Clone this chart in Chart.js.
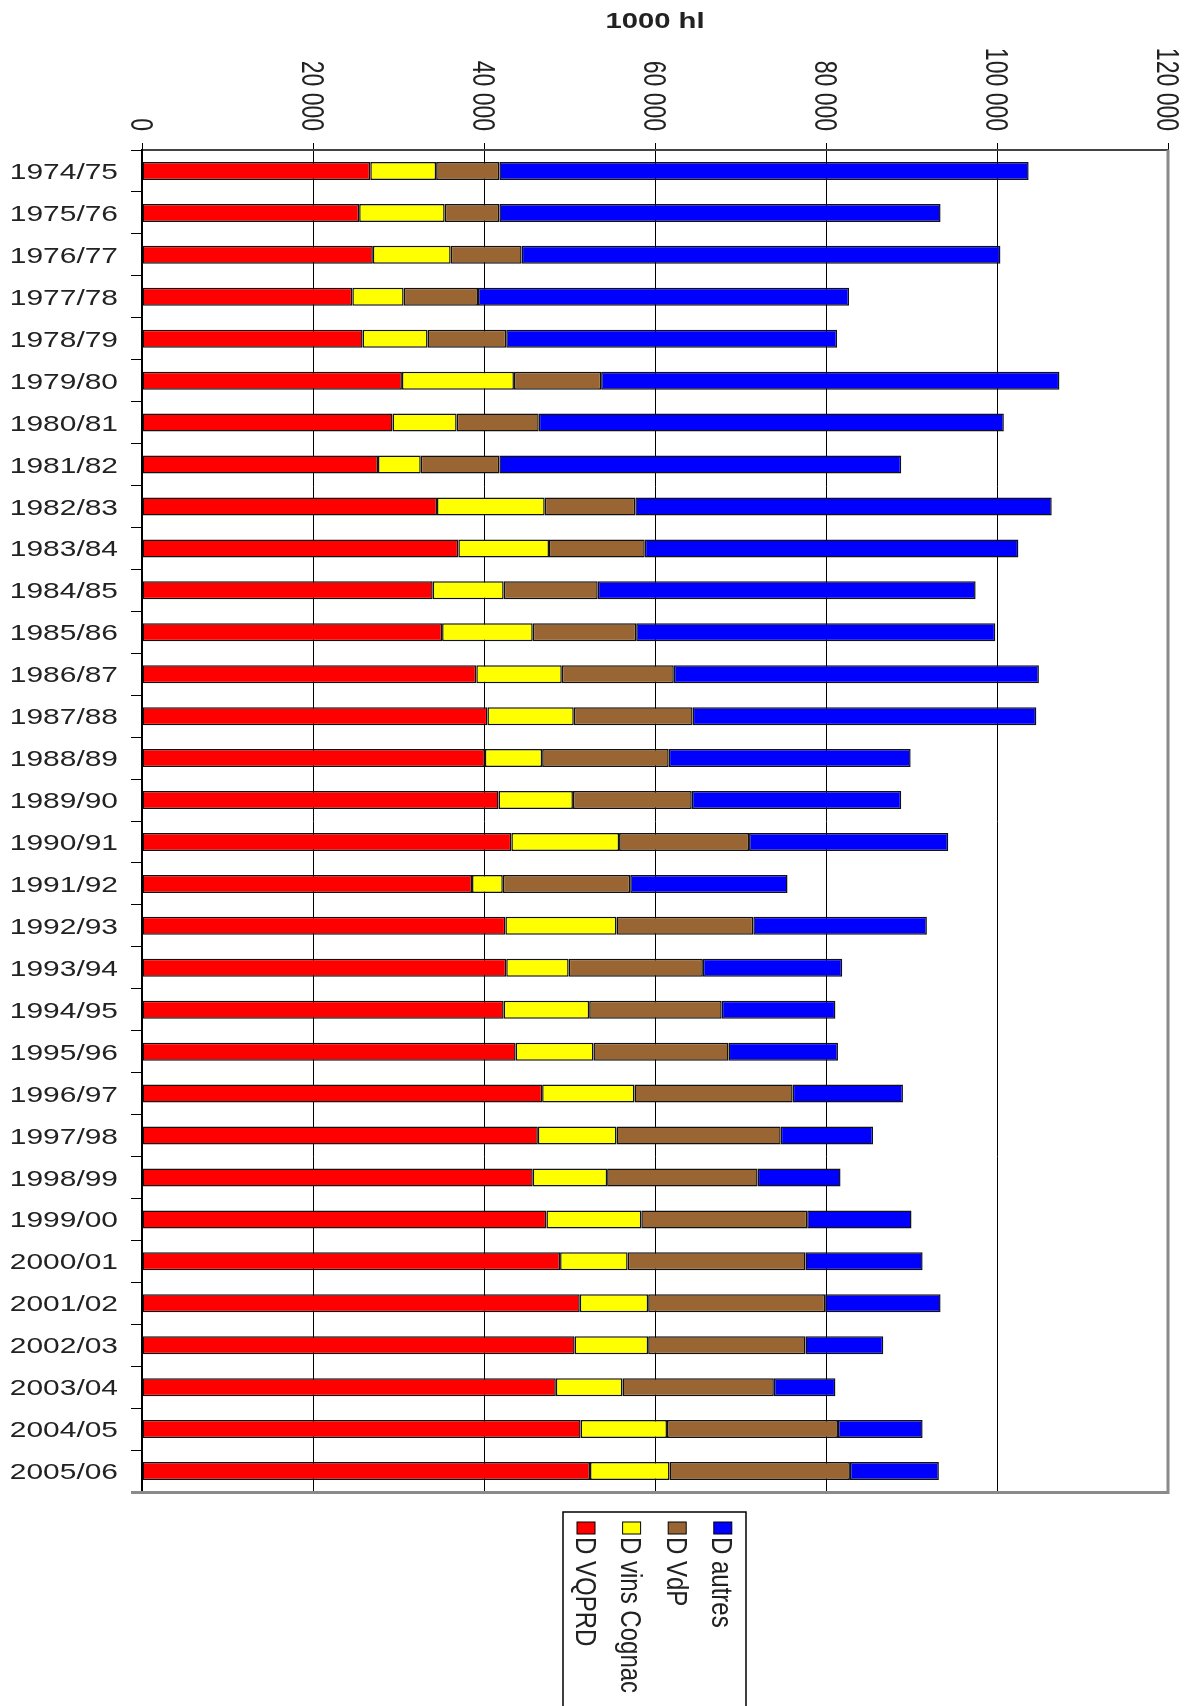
<!DOCTYPE html>
<html>
<head>
    <meta charset="UTF-8">
    <title>1000 hl</title>
    <script src="https://cdn.jsdelivr.net/npm/chart.js"></script>
    <style>
        body { margin: 0; background: #fff; }
    </style>
</head>
<body>
<canvas id="myChart" width="1192" height="1706"></canvas>

<script>
    const labels = ['1974/75', '1975/76', '1976/77', '1977/78', '1978/79', '1979/80', '1980/81', '1981/82',
        '1982/83', '1983/84', '1984/85', '1985/86', '1986/87', '1987/88', '1988/89', '1989/90',
        '1990/91', '1991/92', '1992/93', '1993/94', '1994/95', '1995/96', '1996/97', '1997/98',
        '1998/99', '1999/00', '2000/01', '2001/02', '2002/03', '2003/04', '2004/05', '2005/06'];

    // 1000 hl
    const vqprd = [26700, 25400, 27000, 24600, 25800, 30400, 29300, 27600, 34500, 37000, 34000, 35100,
        39100, 40400, 40100, 41700, 43200, 38600, 42500, 42600, 42300, 43700, 46800, 46300,
        45700, 47300, 48900, 51200, 50600, 48400, 51300, 52400];
    const cognac = [7700, 10000, 9100, 6000, 7600, 13100, 7500, 5000, 12600, 10600, 8300, 10600,
        10000, 10100, 6700, 8700, 12600, 3600, 13000, 7300, 10000, 9100, 10800, 9200,
        8700, 11100, 7900, 8000, 8600, 7800, 10100, 9300];
    const vdp = [7400, 6400, 8300, 8700, 9200, 10200, 9600, 9200, 10600, 11200, 11000, 12100,
        13100, 13900, 14800, 13900, 15200, 14900, 16000, 15700, 15500, 15800, 18500, 19200,
        17600, 19400, 20800, 20700, 18400, 17700, 20000, 21100];
    const autres = [61900, 51600, 56000, 43400, 38700, 53600, 54400, 47000, 48700, 43700, 44200, 42000,
        42700, 40200, 28300, 24500, 23300, 18400, 20300, 16300, 13300, 12800, 12900, 10800,
        9700, 12200, 13700, 13500, 9100, 7200, 9900, 10400];

    const seriesNames = ['D VQPRD', 'D vins Cognac', 'D VdP', 'D autres'];
    const seriesColors = ['#ff0000', '#ffff00', '#996633', '#0000ff'];
    const axisTitle = '1000 hl';

    const FONT = '"Liberation Sans", Arial, sans-serif';
    const STRETCH = 1.33;   // the original text is wide

    function fmt(v) {
        return String(v).replace(/\B(?=(\d{3})+(?!\d))/g, ' ');
    }

    // draws all the texts, the frame and the rotated legend
    const drawText = {
        id: 'drawText',
        afterDraw(chart) {
            const ctx = chart.ctx;
            const xs = chart.scales.x;
            const ys = chart.scales.y;
            const area = chart.chartArea;
            ctx.save();

            // frame right and bottom
            ctx.strokeStyle = '#8a8a8a';
            ctx.lineWidth = 3;
            ctx.beginPath();
            ctx.moveTo(area.left - 11, area.bottom + 0.5);
            ctx.lineTo(area.right, area.bottom + 0.5);
            ctx.lineTo(area.right, area.top);
            ctx.stroke();

            ctx.fillStyle = '#222';

            // title
            ctx.save();
            ctx.font = 'bold 22px ' + FONT;
            ctx.translate((area.left + area.right) / 2, 28);
            ctx.scale(STRETCH, 1);
            ctx.textAlign = 'center';
            ctx.fillText(axisTitle, 0, 0);
            ctx.restore();

            // value ticks, turned a quarter
            const tf = 23;
            ctx.font = tf + 'px ' + FONT;
            xs.ticks.forEach(t => {
                const px = xs.getPixelForValue(t.value);
                ctx.save();
                ctx.translate(px, area.top - 19);
                ctx.rotate(Math.PI / 2);
                ctx.scale(1, STRETCH);
                ctx.textAlign = 'right';
                ctx.fillText(fmt(t.value), 0, tf * 0.716 / 2);
                ctx.restore();
            });

            // years
            const yf = 22.5;
            ctx.font = yf + 'px ' + FONT;
            chart.data.labels.forEach((lab, i) => {
                const py = ys.getPixelForValue(i);
                ctx.save();
                ctx.translate(area.left - 24, py + yf * 0.716 / 2);
                ctx.scale(STRETCH, 1);
                ctx.textAlign = 'right';
                ctx.fillText(lab, 0, 0);
                ctx.restore();
            });

            // legend box
            const lx = 563, lw = 183, ly = 1512;
            ctx.strokeStyle = '#000';
            ctx.lineWidth = 1.5;
            ctx.strokeRect(lx, ly, lw, 260);

            const lf = 24;
            ctx.font = lf + 'px ' + FONT;
            chart.data.datasets.forEach((ds, i) => {
                const cx = 586 + i * 45.6;
                ctx.fillStyle = ds.backgroundColor;
                ctx.fillRect(cx - 9, 1522, 18, 12);
                ctx.strokeStyle = '#000';
                ctx.lineWidth = 1;
                ctx.strokeRect(cx - 9, 1522, 18, 12);
                ctx.fillStyle = '#222';
                ctx.save();
                ctx.translate(cx, 1537);
                ctx.rotate(Math.PI / 2);
                ctx.scale(1, 1.2);
                ctx.textAlign = 'left';
                ctx.fillText(ds.label, 0, lf * 0.716 / 2);
                ctx.restore();
            });

            ctx.restore();
        }
    };

    const values = [vqprd, cognac, vdp, autres];

    const data = {
        labels: labels,
        datasets: values.map((v, i) => ({
            label: seriesNames[i],
            data: v,
            backgroundColor: seriesColors[i],
            borderColor: '#111',
            borderWidth: 1.5,
            borderSkipped: false,
            barPercentage: 0.43,
            categoryPercentage: 1
        }))
    };

    const config = {
        type: 'bar',
        data: data,
        options: {
            indexAxis: 'y',
            responsive: false,
            animation: false,
            layout: {
                padding: { left: 131, top: 143, right: 24, bottom: 214 }
            },
            plugins: {
                legend: { display: false },
                title: { display: false },
                tooltip: { enabled: false }
            },
            scales: {
                x: {
                    position: 'top',
                    stacked: true,
                    min: 0,
                    max: 120000,
                    ticks: { stepSize: 20000, display: false },
                    grid: { color: '#000', lineWidth: 1, tickLength: 7, tickColor: '#000' },
                    border: { color: '#444', width: 2 }
                },
                y: {
                    stacked: true,
                    ticks: { display: false },
                    grid: { drawOnChartArea: false, tickLength: 11, tickColor: '#000' },
                    border: { color: '#000', width: 2 }
                }
            }
        },
        plugins: [drawText]
    };

    const chart = new Chart(
        document.getElementById('myChart'),
        config
    );
</script>
</body>
</html>
